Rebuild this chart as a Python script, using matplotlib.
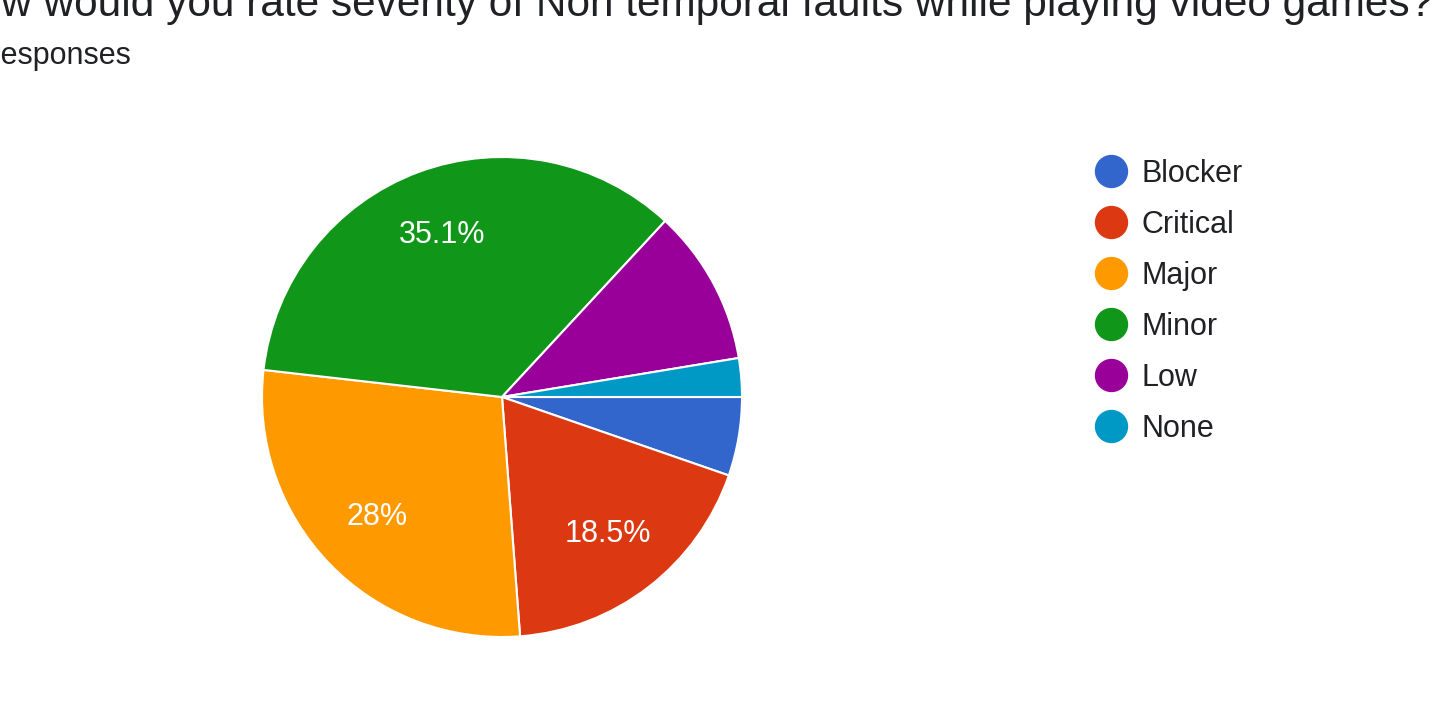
import matplotlib.pyplot as plt
from matplotlib.lines import Line2D

plt.rcParams['font.family'] = ['Liberation Sans', 'DejaVu Sans']

title = "How would you rate severity of Non temporal faults while playing video games?"
subtitle = "57 responses"
labels = ["Blocker", "Critical", "Major", "Minor", "Low", "None"]
values = [5.3, 18.5, 28, 35.1, 10.5, 2.6]
colors = ["#3366CC", "#DC3912", "#FF9900", "#109618", "#990099", "#0099C6"]

fig = plt.figure(figsize=(14.35, 7.06), dpi=100)

# pie centre ~ (502, 397) px, radius ~240 px
ax = fig.add_axes([262 / 1435, (706 - 397 - 240) / 706, 480 / 1435, 480 / 706])


def pct(p):
    return "{:g}%".format(round(p, 1)) if p > 15 else ""


wedges, texts, autotexts = ax.pie(values, colors=colors, startangle=0, counterclock=False,
                                  autopct=pct, pctdistance=0.72,
                                  wedgeprops=dict(edgecolor="white", linewidth=1.5),
                                  textprops=dict(color="white", fontsize=22))
ax.set_xlim(-1, 1)
ax.set_ylim(-1, 1)

# title and subtitle are cropped at the left edge in the reference
fig.text(1433 / 1435, 1 - 16 / 706, title, ha="right", va="baseline", fontsize=30.5, color="#202124")
fig.text(131 / 1435, 1 - 64 / 706, subtitle, ha="right", va="baseline", fontsize=22, color="#202124")

handles = [Line2D([], [], marker="o", linestyle="none", markersize=23, markerfacecolor=c,
                  markeredgecolor=c) for c in colors]
fig.legend(handles, labels, loc="upper left", bbox_to_anchor=(1068 / 1435, 1 - 131 / 706),
           frameon=False, fontsize=22, handlelength=1.0, handletextpad=0.5,
           labelspacing=0.69, labelcolor="#202124")

fig.savefig("out.png", dpi=100)
plt.close()
